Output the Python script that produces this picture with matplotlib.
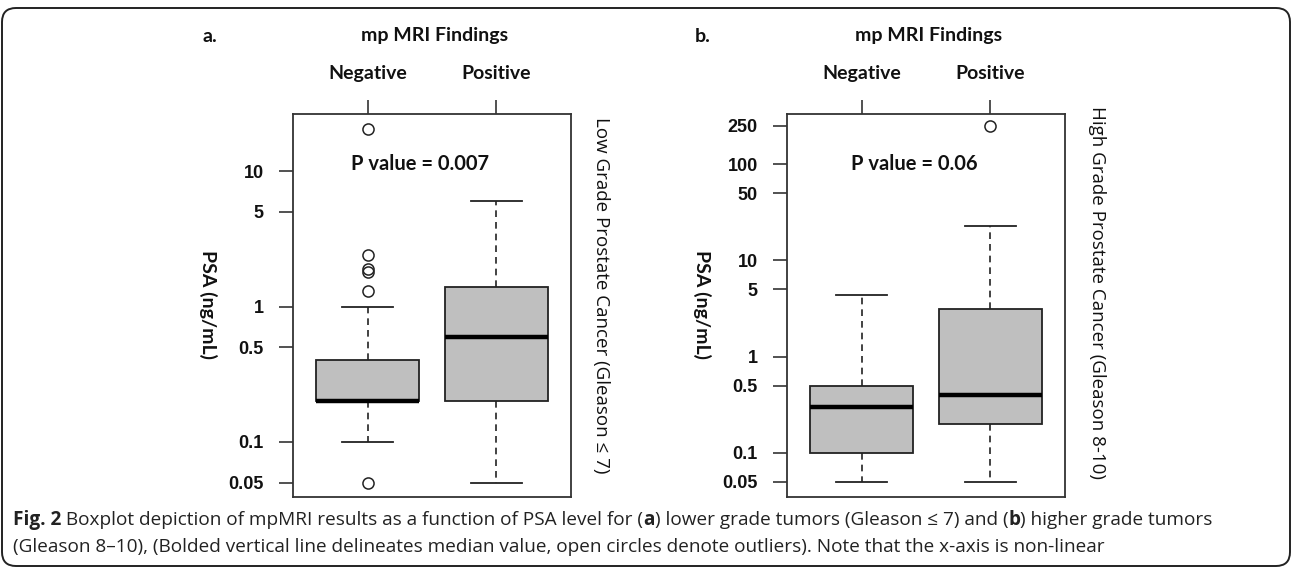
import matplotlib.pyplot as plt
from matplotlib.patches import FancyBboxPatch
from matplotlib.ticker import NullLocator

W, H = 1292, 571

groups = ['Negative', 'Positive']

# panel a: low grade (Gleason <= 7)
a_whislo = [0.1, 0.05]
a_q1 = [0.2, 0.2]
a_med = [0.2, 0.6]
a_q3 = [0.4, 1.4]
a_whishi = [1.0, 6.0]
a_fliers = [[20.5, 2.4, 1.9, 1.8, 1.3, 0.05], []]
a_ticks = [0.05, 0.1, 0.5, 1, 5, 10]
a_ticklabels = ['0.05', '0.1', '0.5', '1', '5', '10']

# panel b: high grade (Gleason 8-10)
b_whislo = [0.05, 0.05]
b_q1 = [0.1, 0.2]
b_med = [0.3, 0.4]
b_q3 = [0.5, 3.1]
b_whishi = [4.4, 22.5]
b_fliers = [[], [250]]
b_ticks = [0.05, 0.1, 0.5, 1, 5, 10, 50, 100, 250]
b_ticklabels = ['0.05', '0.1', '0.5', '1', '5', '10', '50', '100', '250']

INK = '#111111'
LBL = ['Lato', 'DejaVu Sans']
NUM = ['Liberation Sans', 'DejaVu Sans']
CAP = ['Open Sans', 'DejaVu Sans']


def fx(x):
    return x / W


def fy(y):
    return 1 - y / H


def panel(left, whislo, q1, med, q3, whishi, fliers, ticks, ticklabels, ylim):
    ax = fig.add_axes([fx(left), fy(497), 278 / W, 383 / H])
    stats = []
    for i in range(len(groups)):
        stats.append(dict(whislo=whislo[i], q1=q1[i], med=med[i], q3=q3[i],
                          whishi=whishi[i], fliers=fliers[i]))
    ax.bxp(stats, positions=[1, 2], widths=0.8, capwidths=0.4, patch_artist=True,
           boxprops=dict(facecolor='#bfbfbf', edgecolor='#222222', linewidth=1.3),
           medianprops=dict(color='black', linewidth=3.2, solid_capstyle='butt'),
           whiskerprops=dict(color='#222222', linewidth=1.2, linestyle=(0, (4, 3))),
           capprops=dict(color='#222222', linewidth=1.3),
           flierprops=dict(marker='o', markerfacecolor='none', markeredgecolor='#222222',
                           markersize=8, markeredgewidth=1.1))
    ax.set_yscale('log')
    ax.set_ylim(*ylim)
    ax.set_xlim(0.42, 2.58)
    ax.set_yticks(ticks, ticklabels)
    ax.yaxis.set_minor_locator(NullLocator())
    ax.xaxis.tick_top()
    ax.set_xticks([1, 2], groups)
    ax.tick_params(axis='y', length=10, width=1.2, pad=11, colors='#333333', labelcolor=INK)
    ax.tick_params(axis='x', length=10, width=1.2, pad=13, colors='#333333', labelcolor=INK)
    for t in ax.get_yticklabels():
        t.set_fontfamily(NUM)
        t.set_fontweight('bold')
        t.set_fontsize(13)
    for t in ax.get_xticklabels():
        t.set_fontfamily(LBL)
        t.set_fontweight('bold')
        t.set_fontsize(14)
    for s in ax.spines.values():
        s.set_linewidth(1.3)
        s.set_color('#333333')
    return ax


fig = plt.figure(figsize=(W / 100, H / 100), dpi=100)

# frame
bg = fig.add_axes([0, 0, 1, 1])
bg.set_xlim(0, W)
bg.set_ylim(H, 0)
bg.axis('off')
bg.add_patch(FancyBboxPatch((2, 8), W - 4, H - 13, boxstyle='round,pad=0,rounding_size=14',
                            facecolor='none', edgecolor='#222222', linewidth=1.4))

panel(293, a_whislo, a_q1, a_med, a_q3, a_whishi, a_fliers, a_ticks, a_ticklabels, (0.0392, 26.4))
panel(787, b_whislo, b_q1, b_med, b_q3, b_whishi, b_fliers, b_ticks, b_ticklabels, (0.0348, 331))

for x0, letter, p in [(0, 'a.', 'P value = 0.007'), (494, 'b.', 'P value = 0.06')]:
    fig.text(fx(210 + x0 - (1 if x0 else 0)), fy(37), letter, fontfamily=LBL, fontweight='bold',
             fontsize=14, color=INK, ha='center', va='center')
    fig.text(fx(435 + x0), fy(35), 'mp MRI Findings', fontfamily=LBL, fontweight='bold',
             fontsize=14, color=INK, ha='center', va='center')
    fig.text(fx(420 + x0), fy(164), p, fontfamily=LBL, fontweight='bold',
             fontsize=14.5, color=INK, ha='center', va='center')
    fig.text(fx(208 + x0), fy(305), 'PSA (ng/mL)', fontfamily=LBL, fontweight='bold',
             fontsize=14, color=INK, ha='center', va='center', rotation=-90)

fig.text(fx(601), fy(295), 'Low Grade Prostate Cancer (Gleason \u2264 7)', fontfamily=CAP,
         fontsize=13.5, color=INK, ha='center', va='center', rotation=-90)
fig.text(fx(1097), fy(293), 'High Grade Prostate Cancer (Gleason 8-10)', fontfamily=CAP,
         fontsize=13.5, color=INK, ha='center', va='center', rotation=-90)

# caption, with bold pieces placed one after another
renderer = fig.canvas.get_renderer()


def caption_line(y, pieces):
    x = 13
    for s, bold in pieces:
        t = fig.text(fx(x), fy(y), s, fontfamily=CAP, fontsize=13.7, color='#222222',
                     fontweight='bold' if bold else 'normal', ha='left', va='center')
        x += t.get_window_extent(renderer).width


caption_line(520, [('Fig. 2', True),
                   (' Boxplot depiction of mpMRI results as a function of PSA level for (', False),
                   ('a', True),
                   (') lower grade tumors (Gleason \u2264 7) and (', False),
                   ('b', True),
                   (') higher grade tumors', False)])
caption_line(547, [('(Gleason 8\u201310), (Bolded vertical line delineates median value, open circles '
                    'denote outliers). Note that the x-axis is non-linear', False)])

fig.savefig('out.png', dpi=100)
